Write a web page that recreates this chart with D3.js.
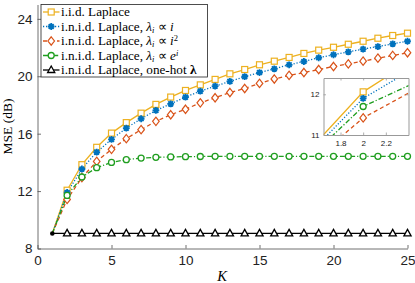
<!DOCTYPE html>
<html>
<head>
<meta charset="utf-8">
<script src="https://cdn.jsdelivr.net/npm/d3@7"></script>
<style>
body { margin:0; background:#fff; }
svg { display:block; }
.tick text { font-family: "Liberation Sans", Arial, sans-serif; }
</style>
</head>
<body>
<svg id="chart"></svg>
<script>
var Ks = d3.range(1, 26)
var iidVals  = [9.05, 12.06, 13.84, 15.05, 16.04, 16.77, 17.43, 18.04, 18.55, 19.01, 19.40, 19.78, 20.17, 20.47, 20.80, 21.05, 21.31, 21.59, 21.82, 22.02, 22.23, 22.44, 22.65, 22.84, 23.00]
var linVals  = [9.05, 11.90, 13.54, 14.72, 15.60, 16.39, 17.04, 17.62, 18.08, 18.55, 18.96, 19.31, 19.64, 19.97, 20.26, 20.52, 20.80, 21.03, 21.29, 21.50, 21.70, 21.89, 22.07, 22.26, 22.44]
var quadVals = [9.05, 11.42, 12.94, 14.07, 14.91, 15.65, 16.28, 16.86, 17.32, 17.70, 18.15, 18.50, 18.87, 19.15, 19.50, 19.81, 20.06, 20.26, 20.47, 20.68, 20.86, 21.05, 21.26, 21.45, 21.64]
var expVals  = [9.05, 11.70, 12.98, 13.63, 14.00, 14.19, 14.30, 14.35, 14.38, 14.40, 14.41, 14.42, 14.42, 14.42, 14.42, 14.42, 14.42, 14.42, 14.42, 14.42, 14.42, 14.42, 14.42, 14.42, 14.42]
var hotVals  = [9.05, 9.05, 9.05, 9.05, 9.05, 9.05, 9.05, 9.05, 9.05, 9.05, 9.05, 9.05, 9.05, 9.05, 9.05, 9.05, 9.05, 9.05, 9.05, 9.05, 9.05, 9.05, 9.05, 9.05, 9.05]

var xTicks = [0, 5, 10, 15, 20, 25]
var yTicks = [8, 12, 16, 20, 24]
var insetXTicks = [1.8, 2, 2.2]
var insetYTicks = [11, 12]

var series = [
  {vals: iidVals,  color: "#EDB120", dash: null,       marker: "square"},
  {vals: linVals,  color: "#0072BD", dash: "1.2,1.8",  marker: "star"},
  {vals: quadVals, color: "#D95319", dash: "4,3",      marker: "diamond"},
  {vals: expVals,  color: "#1f9e1f", dash: "5,2,1.2,2", marker: "circle"},
  {vals: hotVals,  color: "#000000", dash: null,       marker: "triangle"}
]

var screen = {width: 415, height: 283}
var svg = d3.select("#chart").attr("width", screen.width).attr("height", screen.height)

var xScale = d3.scaleLinear().domain([0, 25]).range([37.5, 407.5])
var yScale = d3.scaleLinear().domain([8, 25]).range([248.5, 4.5])

// marker drawing
var drawMarker = function(g, type, color, x, y) {
  if (type == "square") {
    g.append("rect").attr("x", x-3).attr("y", y-3).attr("width", 6).attr("height", 6)
      .attr("fill", "#fff").attr("stroke", color).attr("stroke-width", 1.2)
  } else if (type == "diamond") {
    g.append("path").attr("d", "M"+x+","+(y-4.2)+"L"+(x+3.3)+","+y+"L"+x+","+(y+4.2)+"L"+(x-3.3)+","+y+"Z")
      .attr("fill", "#fff").attr("stroke", color).attr("stroke-width", 1.2)
  } else if (type == "circle") {
    g.append("circle").attr("cx", x).attr("cy", y).attr("r", 3)
      .attr("fill", "#fff").attr("stroke", color).attr("stroke-width", 1.3)
  } else if (type == "triangle") {
    g.append("path").attr("d", "M"+x+","+(y-4)+"L"+(x+3.6)+","+(y+2.5)+"L"+(x-3.6)+","+(y+2.5)+"Z")
      .attr("fill", "#fff").attr("stroke", color).attr("stroke-width", 1.3)
  } else if (type == "star") {
    var r = 3.4, d = r*0.72
    g.append("path").attr("d",
      "M"+(x-r)+","+y+"L"+(x+r)+","+y+
      "M"+x+","+(y-r)+"L"+x+","+(y+r)+
      "M"+(x-d)+","+(y-d)+"L"+(x+d)+","+(y+d)+
      "M"+(x-d)+","+(y+d)+"L"+(x+d)+","+(y-d))
      .attr("fill", "none").attr("stroke", color).attr("stroke-width", 1.8)
  }
}

var drawSeries = function(g, xs, ys) {
  var line = d3.line().x(function(d, i) { return xs(Ks[i]) }).y(function(d) { return ys(d) })
  series.forEach(function(s) {
    g.append("path").datum(s.vals).attr("d", line)
      .attr("fill", "none").attr("stroke", s.color).attr("stroke-width", 1.3)
      .attr("stroke-dasharray", s.dash)
  })
  series.forEach(function(s) {
    s.vals.forEach(function(v, i) {
      if (i == 0) return
      drawMarker(g, s.marker, s.color, xs(Ks[i]), ys(v))
    })
  })
  g.append("circle").attr("cx", xs(Ks[0])).attr("cy", ys(hotVals[0])).attr("r", 2.3).attr("fill", "#000")
}

// axes
var axisColor = "#4d4d4d"
var xAxis = svg.append("g").attr("transform", "translate(0," + yScale(8) + ")")
  .call(d3.axisBottom(xScale).tickValues(xTicks).tickSizeInner(-3.5).tickSizeOuter(0).tickPadding(7))
var yAxis = svg.append("g").attr("transform", "translate(" + xScale(0) + ",0)")
  .call(d3.axisLeft(yScale).tickValues(yTicks).tickSizeInner(-3.5).tickSizeOuter(0).tickPadding(5))
;[xAxis, yAxis].forEach(function(a) {
  a.select(".domain").attr("stroke", axisColor).attr("stroke-width", 0.8)
  a.selectAll(".tick line").attr("stroke", axisColor).attr("stroke-width", 0.8)
  a.selectAll(".tick text").attr("font-size", 13.5).attr("fill", "#222")
})

var plot = svg.append("g")
drawSeries(plot, xScale, yScale)

// axis labels
svg.append("text").text("K").attr("x", 222).attr("y", 281)
  .attr("text-anchor", "middle").attr("font-family", "Liberation Serif, serif")
  .attr("font-style", "italic").attr("font-size", 14.5)
svg.append("g").attr("transform", "translate(12," + ((yScale(8) + yScale(25)) / 2) + ")")
  .append("text").text("MSE (dB)").attr("transform", "rotate(-90)")
  .attr("text-anchor", "middle").attr("font-family", "Liberation Serif, serif").attr("font-size", 13.5)

// legend
var legend = svg.append("g")
legend.append("rect").attr("x", 41).attr("y", 4.5).attr("width", 166.5).attr("height", 72.5)
  .attr("fill", "#fff").attr("stroke", "#222").attr("stroke-width", 0.8)
var legendRows = [
  [{t: "i.i.d. Laplace"}],
  [{t: "i.n.i.d. Laplace, "}, {t: "\u03BB", it: true}, {t: "i", sub: true}, {t: " \u221D "}, {t: "i", it: true}],
  [{t: "i.n.i.d. Laplace, "}, {t: "\u03BB", it: true}, {t: "i", sub: true}, {t: " \u221D "}, {t: "i", it: true}, {t: "2", sup: true}],
  [{t: "i.n.i.d. Laplace, "}, {t: "\u03BB", it: true}, {t: "i", sub: true}, {t: " \u221D "}, {t: "e", it: true}, {t: "i", sup: true, it: true}],
  [{t: "i.n.i.d. Laplace, one-hot "}, {t: "\u03BB", bold: true}]
]
series.forEach(function(s, i) {
  var yy = 12 + i * 14.5
  legend.append("line").attr("x1", 43).attr("x2", 59.5).attr("y1", yy).attr("y2", yy)
    .attr("stroke", s.color).attr("stroke-width", 1.3).attr("stroke-dasharray", s.dash)
  drawMarker(legend, s.marker, s.color, 51.2, yy)
  var txt = legend.append("text").attr("x", 61).attr("y", yy + 4.3)
    .attr("font-family", "Liberation Serif, serif").attr("font-size", 13.2).attr("fill", "#000")
  legendRows[i].forEach(function(p) {
    var ts = txt.append("tspan").text(p.t)
    if (p.it) ts.attr("font-style", "italic")
    if (p.bold) ts.attr("font-weight", "bold")
    if (p.sub) ts.attr("font-size", 8.5).attr("font-style", "italic").attr("dy", 2)
    if (p.sup) ts.attr("font-size", 8.5).attr("dy", -4.2)
    if (p.sub || p.sup) p.reset = p.sub ? -2 : 4.2
  })
  // tspans after a sub/sup go back to the baseline
  var prev = 0
  txt.selectAll("tspan").each(function(d, j) {
    var p = legendRows[i][j]
    if (prev && !p.sub && !p.sup) d3.select(this).attr("dy", prev)
    prev = (p.sub || p.sup) ? p.reset : 0
  })
})

// inset
var ix = d3.scaleLinear().domain([1.65, 2.4]).range([323.5, 408.5])
var iy = d3.scaleLinear().domain([11, 12.4]).range([135, 78])
svg.append("defs").append("clipPath").attr("id", "insetclip")
  .append("rect").attr("x", 323.5).attr("y", 78).attr("width", 85).attr("height", 57)
var inset = svg.append("g")
inset.append("rect").attr("x", 323.5).attr("y", 78).attr("width", 85).attr("height", 57).attr("fill", "#fff")
var insetPlot = inset.append("g").attr("clip-path", "url(#insetclip)")
drawSeries(insetPlot, ix, iy)
var ixAxis = inset.append("g").attr("transform", "translate(0,135)")
  .call(d3.axisBottom(ix).tickValues(insetXTicks).tickFormat(d3.format("")).tickSizeInner(-2.5).tickSizeOuter(0).tickPadding(5))
var ixTop = inset.append("g").attr("transform", "translate(0,78)")
  .call(d3.axisTop(ix).tickValues(insetXTicks).tickFormat("").tickSizeInner(-2.5).tickSizeOuter(0))
var iyAxis = inset.append("g").attr("transform", "translate(323.5,0)")
  .call(d3.axisLeft(iy).tickValues(insetYTicks).tickFormat(d3.format("d")).tickSizeInner(-2.5).tickSizeOuter(0).tickPadding(4))
var iyRight = inset.append("g").attr("transform", "translate(408.5,0)")
  .call(d3.axisRight(iy).tickValues(insetYTicks).tickFormat("").tickSizeInner(-2.5).tickSizeOuter(0))
;[ixAxis, ixTop, iyAxis, iyRight].forEach(function(a) {
  a.select(".domain").attr("stroke", "#999").attr("stroke-width", 1)
  a.selectAll(".tick line").attr("stroke", "#999").attr("stroke-width", 0.8)
  a.selectAll(".tick text").attr("font-size", 8).attr("fill", "#222")
})
</script>
</body>
</html>
